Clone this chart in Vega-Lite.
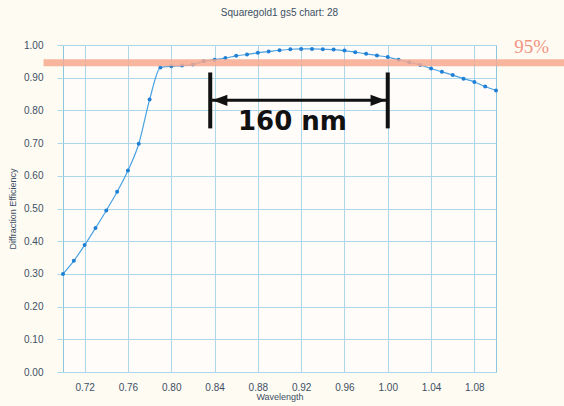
{
  "$schema": "https://vega.github.io/schema/vega-lite/v6.json",
  "width": 433,
  "height": 327,
  "autosize": {"type": "none"},
  "padding": {"left": 63, "top": 45, "right": 68, "bottom": 34},
  "background": "#fefbf3",
  "title": {"text": "Squaregold1 gs5 chart: 28", "fontSize": 10, "font": "Liberation Sans", "fontWeight": "normal", "color": "#3d4f63", "anchor": "middle", "offset": 20},
  "config": {
    "view": {"fill": "#fffcfa", "stroke": "#8cc6de", "strokeWidth": 1},
    "axis": {"labelFont": "Liberation Sans", "labelFontSize": 10, "labelColor": "#3d4f63", "titleFont": "Liberation Sans", "titleFontSize": 9, "titleFontWeight": "normal", "titleColor": "#3d4f63", "gridColor": "#acd7ea", "gridOpacity": 1, "domain": false, "labelOverlap": false}
  },
  "datasets": {
    "curve": [
      {"wavelength": 0.70, "efficiency": 0.300},
      {"wavelength": 0.71, "efficiency": 0.340},
      {"wavelength": 0.72, "efficiency": 0.388},
      {"wavelength": 0.73, "efficiency": 0.440},
      {"wavelength": 0.74, "efficiency": 0.494},
      {"wavelength": 0.75, "efficiency": 0.551},
      {"wavelength": 0.76, "efficiency": 0.616},
      {"wavelength": 0.77, "efficiency": 0.698},
      {"wavelength": 0.78, "efficiency": 0.833},
      {"wavelength": 0.79, "efficiency": 0.931},
      {"wavelength": 0.80, "efficiency": 0.935},
      {"wavelength": 0.81, "efficiency": 0.937},
      {"wavelength": 0.82, "efficiency": 0.940},
      {"wavelength": 0.83, "efficiency": 0.950},
      {"wavelength": 0.84, "efficiency": 0.955},
      {"wavelength": 0.85, "efficiency": 0.960},
      {"wavelength": 0.86, "efficiency": 0.967},
      {"wavelength": 0.87, "efficiency": 0.971},
      {"wavelength": 0.88, "efficiency": 0.976},
      {"wavelength": 0.89, "efficiency": 0.980},
      {"wavelength": 0.90, "efficiency": 0.984},
      {"wavelength": 0.91, "efficiency": 0.987},
      {"wavelength": 0.92, "efficiency": 0.988},
      {"wavelength": 0.93, "efficiency": 0.988},
      {"wavelength": 0.94, "efficiency": 0.987},
      {"wavelength": 0.95, "efficiency": 0.986},
      {"wavelength": 0.96, "efficiency": 0.983},
      {"wavelength": 0.97, "efficiency": 0.978},
      {"wavelength": 0.98, "efficiency": 0.973},
      {"wavelength": 0.99, "efficiency": 0.968},
      {"wavelength": 1.00, "efficiency": 0.963},
      {"wavelength": 1.01, "efficiency": 0.955},
      {"wavelength": 1.02, "efficiency": 0.947},
      {"wavelength": 1.03, "efficiency": 0.939},
      {"wavelength": 1.04, "efficiency": 0.928},
      {"wavelength": 1.05, "efficiency": 0.918},
      {"wavelength": 1.06, "efficiency": 0.908},
      {"wavelength": 1.07, "efficiency": 0.897},
      {"wavelength": 1.08, "efficiency": 0.887},
      {"wavelength": 1.09, "efficiency": 0.873},
      {"wavelength": 1.10, "efficiency": 0.861}
    ],
    "band": [{"start": 0.682, "end": 1.165, "level": 0.946, "label": "95%", "labelX": 1.133, "labelY": 0.995}],
    "bars": [
      {"wavelength": 0.836, "top": 0.916, "bottom": 0.745},
      {"wavelength": 1.0, "top": 0.916, "bottom": 0.745}
    ],
    "span": [{"start": 0.836, "end": 1.0, "level": 0.831, "label": "160 nm", "labelX": 0.912, "labelY": 0.766}],
    "heads": [
      {"wavelength": 0.838, "level": 0.831, "dir": "left"},
      {"wavelength": 0.998, "level": 0.831, "dir": "right"}
    ]
  },
  "layer": [
    {
      "data": {"name": "curve"},
      "mark": {"type": "line", "color": "#4aa2e2", "strokeWidth": 1.2, "interpolate": "monotone", "clip": false},
      "encoding": {
        "x": {"field": "wavelength", "type": "quantitative", "title": "Wavelength",
              "scale": {"domain": [0.70, 1.10], "nice": false, "zero": false},
              "axis": {"values": [0.72, 0.76, 0.80, 0.84, 0.88, 0.92, 0.96, 1.00, 1.04, 1.08], "format": ".2f", "ticks": false, "labelPadding": 10, "titlePadding": 0}},
        "y": {"field": "efficiency", "type": "quantitative", "title": "Diffraction Efficiency",
              "scale": {"domain": [0, 1], "nice": false},
              "axis": {"values": [0, 0.1, 0.2, 0.3, 0.4, 0.5, 0.6, 0.7, 0.8, 0.9, 1.0], "tickCount": 11, "format": ".2f", "ticks": true, "tickColor": "#acd7ea", "tickSize": 6, "labelPadding": 14, "titlePadding": 6}}
      }
    },
    {
      "data": {"name": "curve"},
      "mark": {"type": "point", "filled": true, "color": "#1f80d6", "size": 16, "opacity": 1},
      "encoding": {
        "x": {"field": "wavelength", "type": "quantitative"},
        "y": {"field": "efficiency", "type": "quantitative"}
      }
    },
    {
      "data": {"name": "band"},
      "mark": {"type": "rule", "color": "#f7a88e", "strokeWidth": 7, "opacity": 0.85, "clip": false},
      "encoding": {
        "x": {"field": "start", "type": "quantitative"},
        "x2": {"field": "end"},
        "y": {"field": "level", "type": "quantitative"}
      }
    },
    {
      "data": {"name": "band"},
      "mark": {"type": "text", "color": "#f07a66", "fontSize": 19, "font": "Liberation Serif", "align": "center", "baseline": "middle", "clip": false, "opacity": 0.8},
      "encoding": {
        "x": {"field": "labelX", "type": "quantitative"},
        "y": {"field": "labelY", "type": "quantitative"},
        "text": {"field": "label"}
      }
    },
    {
      "data": {"name": "bars"},
      "mark": {"type": "rule", "color": "#111111", "strokeWidth": 4},
      "encoding": {
        "x": {"field": "wavelength", "type": "quantitative"},
        "y": {"field": "top", "type": "quantitative"},
        "y2": {"field": "bottom"}
      }
    },
    {
      "data": {"name": "span"},
      "mark": {"type": "rule", "color": "#111111", "strokeWidth": 3},
      "encoding": {
        "x": {"field": "start", "type": "quantitative"},
        "x2": {"field": "end"},
        "y": {"field": "level", "type": "quantitative"}
      }
    },
    {
      "data": {"name": "heads"},
      "mark": {"type": "point", "filled": true, "color": "#111111", "size": 225, "opacity": 1},
      "encoding": {
        "x": {"field": "wavelength", "type": "quantitative"},
        "y": {"field": "level", "type": "quantitative"},
        "shape": {"field": "dir", "type": "nominal", "legend": null,
                  "scale": {"domain": ["left", "right"], "range": ["M0,0L2,-0.75L2,0.75Z", "M0,0L-2,-0.75L-2,0.75Z"]}}
      }
    },
    {
      "data": {"name": "span"},
      "mark": {"type": "text", "color": "#111111", "fontSize": 26, "font": "DejaVu Sans", "fontWeight": "bold", "align": "center", "baseline": "middle"},
      "encoding": {
        "x": {"field": "labelX", "type": "quantitative"},
        "y": {"field": "labelY", "type": "quantitative"},
        "text": {"field": "label"}
      }
    }
  ]
}
